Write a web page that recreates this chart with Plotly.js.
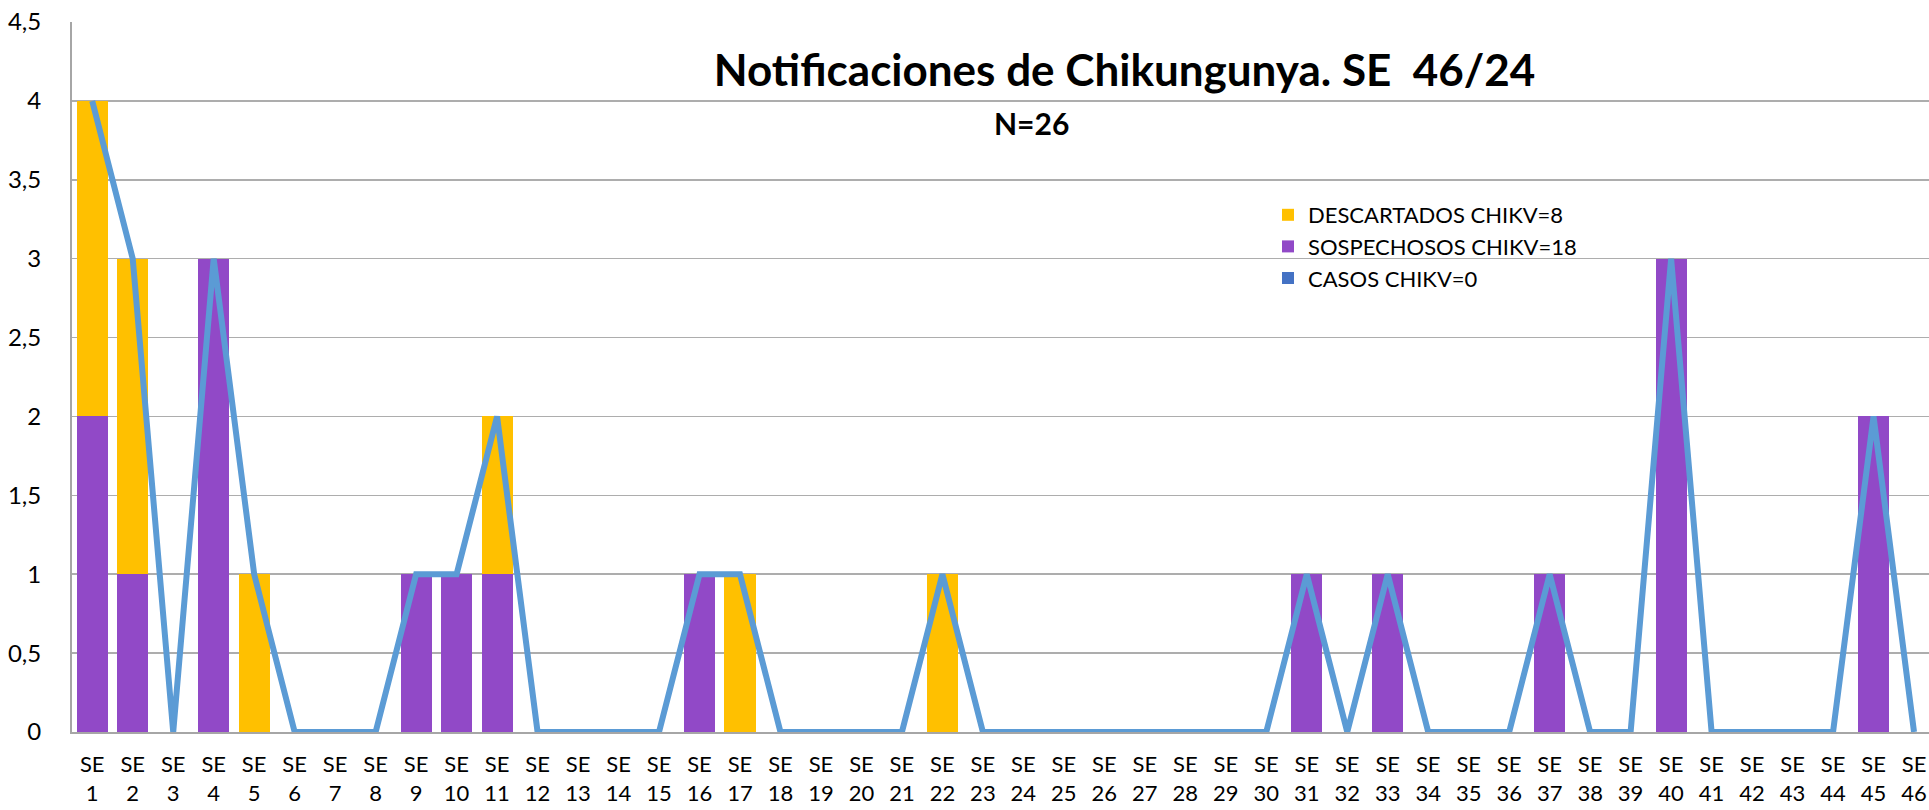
<!DOCTYPE html>
<html>
<head>
<meta charset="utf-8">
<script src="https://cdn.plot.ly/plotly-3.0.1.min.js"></script>
<style>
  html, body { margin: 0; padding: 0; background: #ffffff; }
  #chart { width: 1929px; height: 810px; }
</style>
</head>
<body>
<div id="chart"></div>
<script>
// ---- Data ----
const semanas = ["SE<br>1","SE<br>2","SE<br>3","SE<br>4","SE<br>5","SE<br>6","SE<br>7","SE<br>8","SE<br>9","SE<br>10",
  "SE<br>11","SE<br>12","SE<br>13","SE<br>14","SE<br>15","SE<br>16","SE<br>17","SE<br>18","SE<br>19","SE<br>20",
  "SE<br>21","SE<br>22","SE<br>23","SE<br>24","SE<br>25","SE<br>26","SE<br>27","SE<br>28","SE<br>29","SE<br>30",
  "SE<br>31","SE<br>32","SE<br>33","SE<br>34","SE<br>35","SE<br>36","SE<br>37","SE<br>38","SE<br>39","SE<br>40",
  "SE<br>41","SE<br>42","SE<br>43","SE<br>44","SE<br>45","SE<br>46"];

const casos = [0,0,0,0,0,0,0,0,0,0, 0,0,0,0,0,0,0,0,0,0, 0,0,0,0,0,0,0,0,0,0, 0,0,0,0,0,0,0,0,0,0, 0,0,0,0,0,0];
const sospechosos = [2,1,0,3,0,0,0,0,1,1, 1,0,0,0,0,1,0,0,0,0, 0,0,0,0,0,0,0,0,0,0, 1,0,1,0,0,0,1,0,0,3, 0,0,0,0,2,0];
const descartados = [2,2,0,0,1,0,0,0,0,0, 1,0,0,0,0,0,1,0,0,0, 0,1,0,0,0,0,0,0,0,0, 0,0,0,0,0,0,0,0,0,0, 0,0,0,0,0,0];
const totalNotificaciones = [4,3,0,3,1,0,0,0,1,1, 2,0,0,0,0,1,1,0,0,0, 0,1,0,0,0,0,0,0,0,0, 1,0,1,0,0,0,1,0,0,3, 0,0,0,0,2,0];

const yTickVals = [0,0.5,1,1.5,2,2.5,3,3.5,4,4.5];
const yTickText = ["0","0,5","1","1,5","2","2,5","3","3,5","4","4,5"];

const nombres = {
  casos: "CASOS CHIKV=0",
  sospechosos: "SOSPECHOSOS CHIKV=18",
  descartados: "DESCARTADOS CHIKV=8"
};
const tituloTexto = "Notificaciones de Chikungunya. SE&nbsp; 46/24";
const subtituloTexto = "N=26";

// ---- Chart ----
const FONT = "Lato, 'Open Sans', sans-serif";

const traces = [
  { type: "bar", x: semanas, y: casos, name: nombres.casos,
    marker: { color: "#4472C4" }, hoverinfo: "skip" },
  { type: "bar", x: semanas, y: sospechosos, name: nombres.sospechosos,
    marker: { color: "#9149C7" }, hoverinfo: "skip" },
  { type: "bar", x: semanas, y: descartados, name: nombres.descartados,
    marker: { color: "#FFC000" }, hoverinfo: "skip" },
  { type: "scatter", mode: "lines", x: semanas, y: totalNotificaciones,
    showlegend: false, cliponaxis: false,
    line: { color: "#5B9BD5", width: 6 }, hoverinfo: "skip" }
];

const layout = {
  width: 1929, height: 810,
  margin: { l: 72, r: 0, t: 22, b: 78, pad: 0 },
  paper_bgcolor: "#ffffff", plot_bgcolor: "#ffffff",
  barmode: "stack", bargap: 0.23,
  font: { family: FONT, color: "#000000", size: 22 },
  title: {
    text: "<b>" + tituloTexto + "</b>",
    font: { family: FONT, size: 44, color: "#000000" },
    x: 0.583, xanchor: "center", xref: "container",
    y: 0.913, yanchor: "middle", yref: "container"
  },
  annotations: [{
    text: "<b>" + subtituloTexto + "</b>", showarrow: false,
    xref: "paper", yref: "paper",
    x: (1031 - 72) / 1857, y: (732 - 123) / 710,
    xanchor: "center", yanchor: "middle",
    font: { family: FONT, size: 30, color: "#000000" }
  }],
  xaxis: {
    type: "category",
    range: [-0.5, 45.37],
    showgrid: false, zeroline: false,
    showline: true, linecolor: "#A6A6A6", linewidth: 2,
    ticks: "", ticklabelstandoff: 12,
    tickangle: 0,
    tickfont: { family: FONT, size: 22, color: "#000000" },
    fixedrange: true
  },
  yaxis: {
    range: [0, 4.5],
    tickvals: yTickVals, ticktext: yTickText,
    showgrid: true, gridcolor: "#ADADAD", gridwidth: 1.6,
    zeroline: false,
    showline: true, linecolor: "#A6A6A6", linewidth: 2,
    ticks: "", ticklabelstandoff: 24,
    tickfont: { family: FONT, size: 24, color: "#000000" },
    fixedrange: true
  },
  legend: {
    traceorder: "reversed",
    x: (1268 - 72) / 1857, xanchor: "left",
    y: (732 - 194) / 710, yanchor: "top",
    bgcolor: "rgba(255,255,255,0)",
    font: { family: FONT, size: 22, color: "#000000" },
    itemwidth: 30, tracegroupgap: 0
  },
  showlegend: true
};

Plotly.newPlot("chart", traces, layout, { staticPlot: true, displayModeBar: false });
</script>
</body>
</html>
